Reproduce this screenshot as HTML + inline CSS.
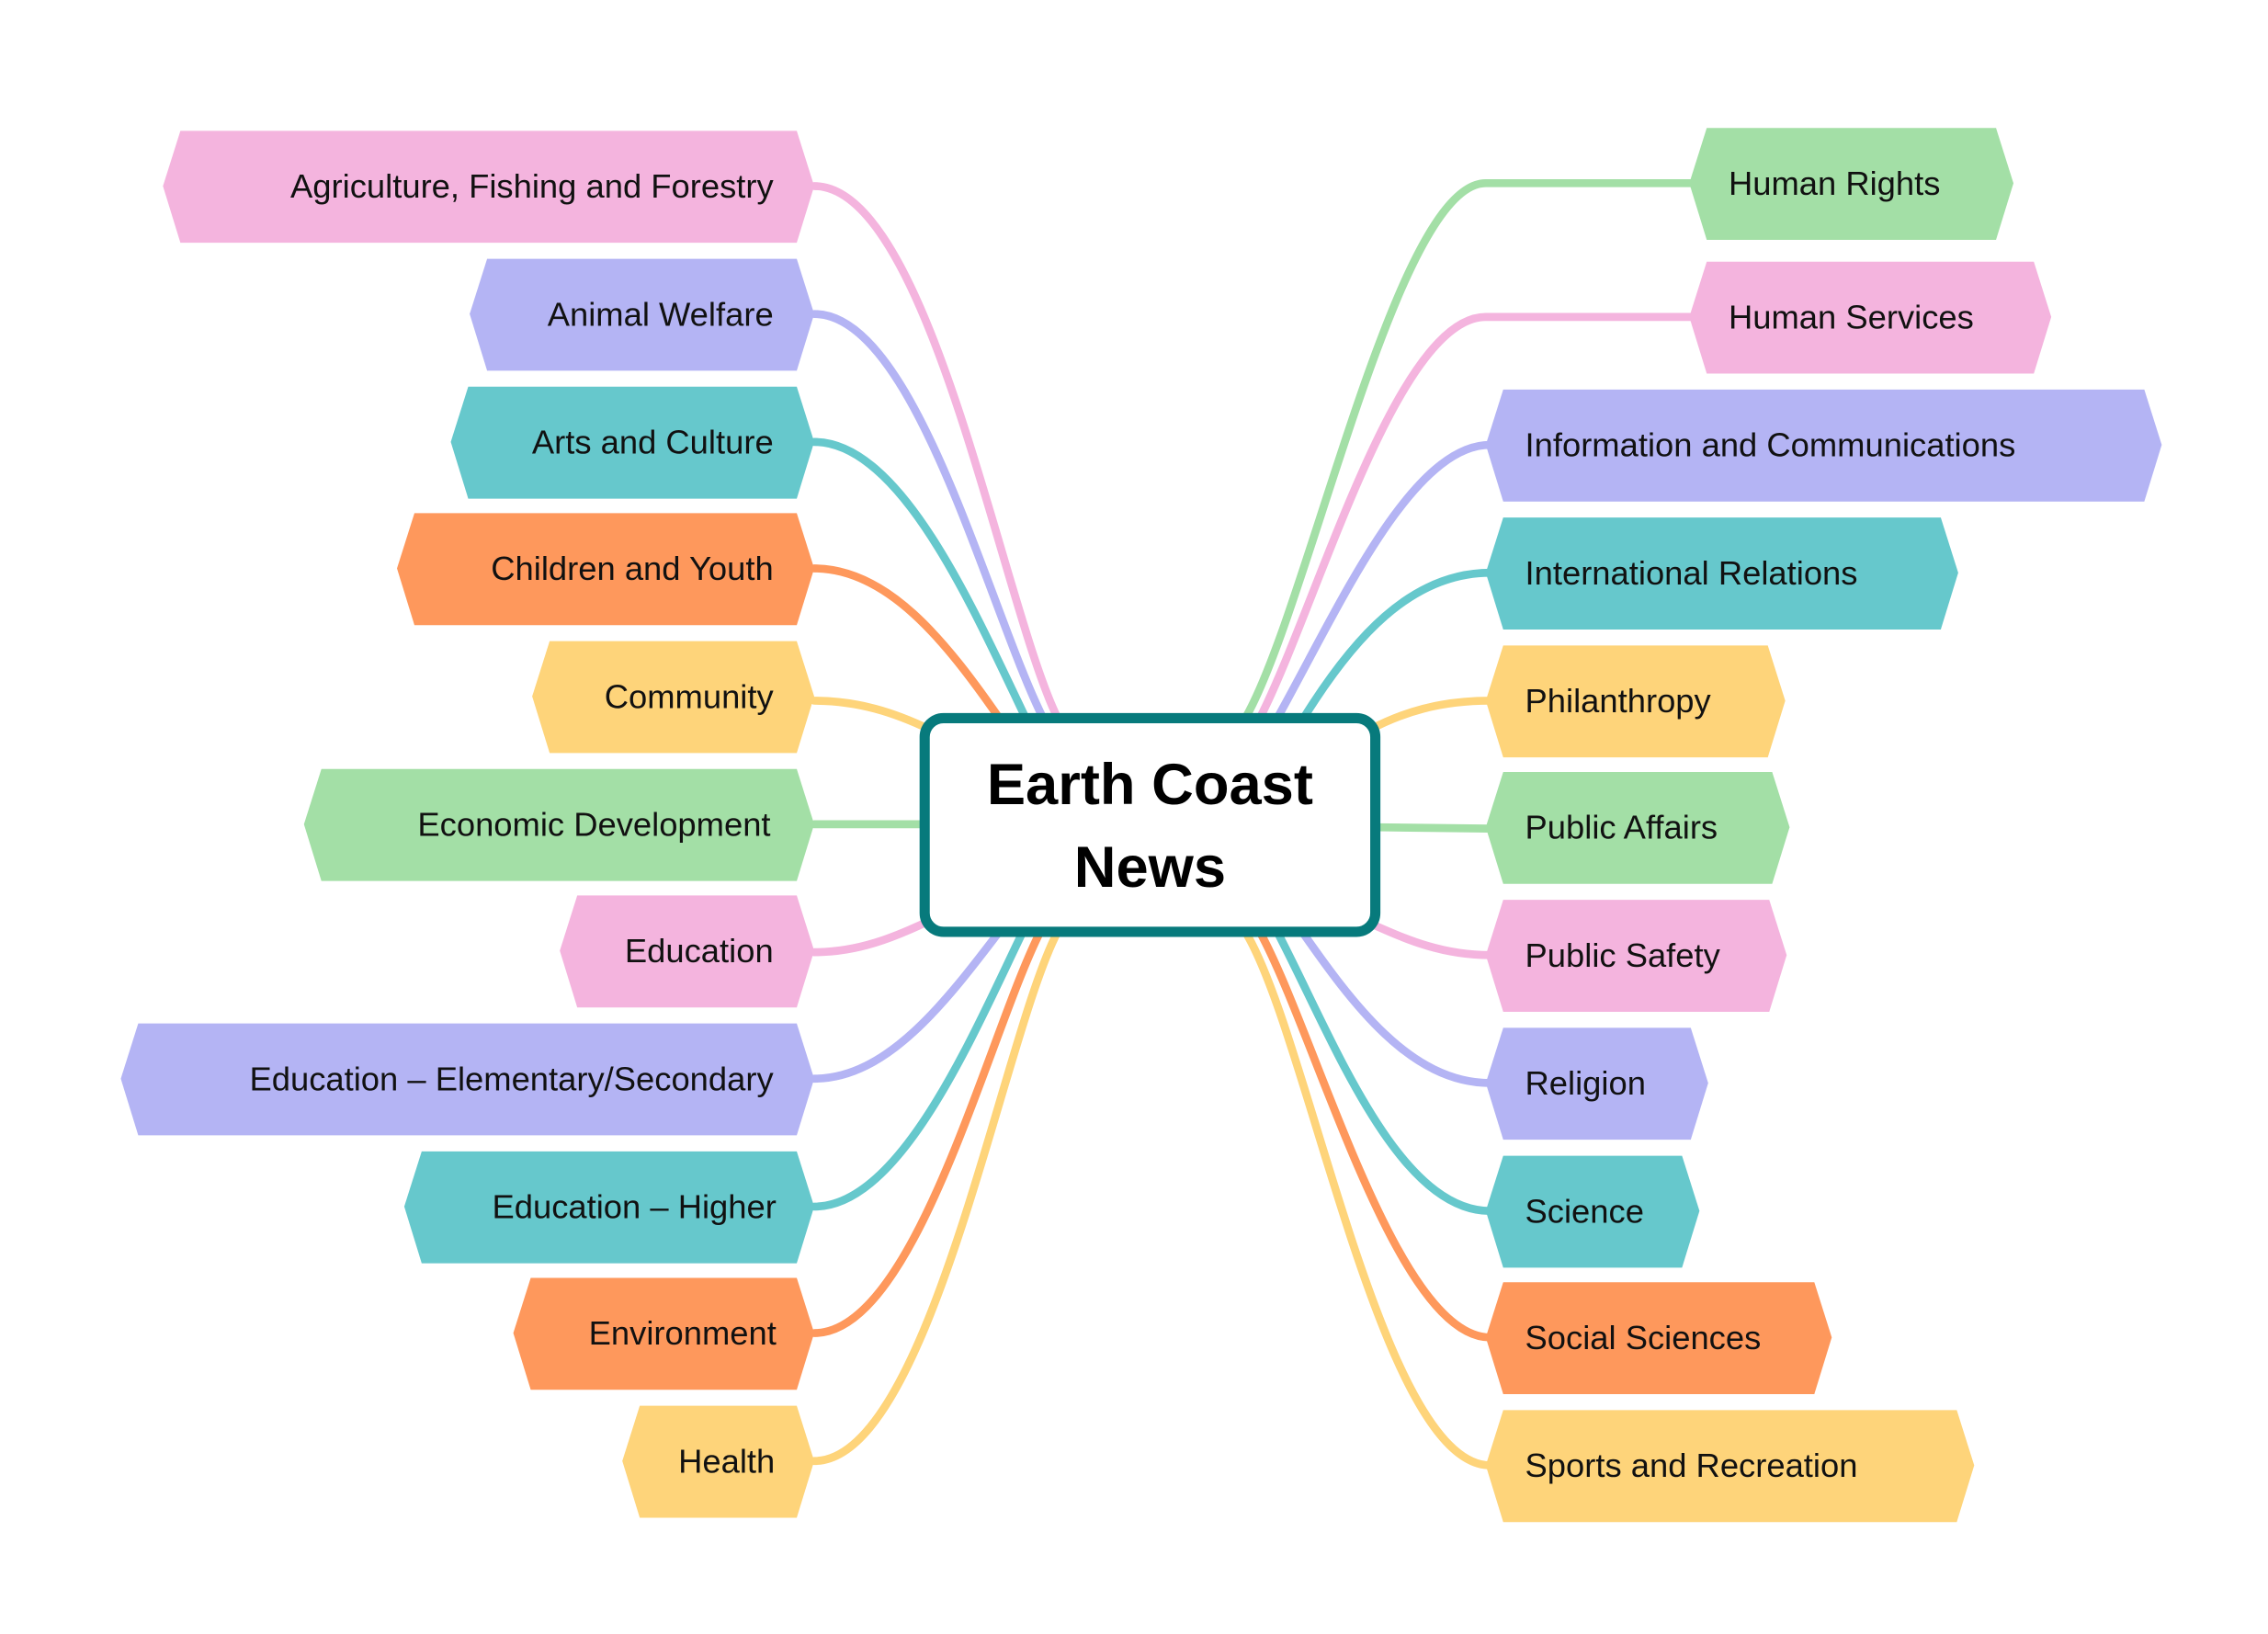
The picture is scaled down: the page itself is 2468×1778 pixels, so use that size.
<!DOCTYPE html>
<html><head><meta charset="utf-8"><style>
html,body{margin:0;padding:0;background:#fff;}
svg{display:block;}
text{font-family:"Liberation Sans",sans-serif;}
</style></head><body>
<svg width="2468" height="1778" viewBox="0 0 1560 1124" xmlns="http://www.w3.org/2000/svg">
<rect width="1560" height="1124" fill="#fff"/>
<g fill="none" stroke-width="5.5" stroke-linecap="round">
<path d="M560,128 C640,128 690,420 728,495" stroke="#f4b4de"/>
<path d="M560,216 C630,216 680,420 718,495" stroke="#b4b4f4"/>
<path d="M560,304 C620,304 670,420 706,495" stroke="#66c8cc"/>
<path d="M560,391 C610,391 650,440 688,495" stroke="#fe985c"/>
<path d="M560,482 C590,482 615,490 640,502" stroke="#fed47a"/>
<path d="M560,567 L640,567" stroke="#a3dfa6"/>
<path d="M560,655 C590,655 615,645 640,633" stroke="#f4b4de"/>
<path d="M560,742 C610,742 650,690 688,640" stroke="#b4b4f4"/>
<path d="M560,830 C620,830 670,710 704,640" stroke="#66c8cc"/>
<path d="M560,917 C630,917 680,710 716,640" stroke="#fe985c"/>
<path d="M560,1005 C640,1005 690,710 728,640" stroke="#fed47a"/>
<path d="M1165,126 L1022,126 C960,126 900,420 856,495" stroke="#a3dfa6"/>
<path d="M1165,218 L1022,218 C960,218 905,420 866,495" stroke="#f4b4de"/>
<path d="M1025,306 C970,306 920,420 878,495" stroke="#b4b4f4"/>
<path d="M1025,394 C970,394 930,440 896,495" stroke="#66c8cc"/>
<path d="M1025,482 C990,482 965,490 942,502" stroke="#fed47a"/>
<path d="M942,569 L1025,570" stroke="#a3dfa6"/>
<path d="M942,635 C965,645 990,657 1025,657" stroke="#f4b4de"/>
<path d="M1025,745 C970,745 930,690 895,640" stroke="#b4b4f4"/>
<path d="M1025,833 C960,833 915,710 878,640" stroke="#66c8cc"/>
<path d="M1025,920 C960,920 905,710 866,640" stroke="#fe985c"/>
<path d="M1025,1008 C950,1008 900,710 856,640" stroke="#fed47a"/>
</g>
<g font-size="23" fill="#111" text-anchor="end">
<polygon points="124,90 548,90 560,128 548,167 124,167 112,128" fill="#f4b4de"/>
<text x="532" y="136">Agriculture, Fishing and Forestry</text>
<polygon points="335,178 548,178 560,216 548,255 335,255 323,216" fill="#b4b4f4"/>
<text x="532" y="224">Animal Welfare</text>
<polygon points="322,266 548,266 560,304 548,343 322,343 310,304" fill="#66c8cc"/>
<text x="532" y="312">Arts and Culture</text>
<polygon points="285,353 548,353 560,391 548,430 285,430 273,391" fill="#fe985c"/>
<text x="532" y="399">Children and Youth</text>
<polygon points="378,441 548,441 560,479 548,518 378,518 366,479" fill="#fed47a"/>
<text x="532" y="487">Community</text>
<polygon points="221,529 548,529 560,567 548,606 221,606 209,567" fill="#a3dfa6"/>
<text x="530" y="575">Economic Development</text>
<polygon points="397,616 548,616 560,654 548,693 397,693 385,654" fill="#f4b4de"/>
<text x="532" y="662">Education</text>
<polygon points="95,704 548,704 560,742 548,781 95,781 83,742" fill="#b4b4f4"/>
<text x="532" y="750">Education – Elementary/Secondary</text>
<polygon points="290,792 548,792 560,830 548,869 290,869 278,830" fill="#66c8cc"/>
<text x="534" y="838">Education – Higher</text>
<polygon points="365,879 548,879 560,917 548,956 365,956 353,917" fill="#fe985c"/>
<text x="534" y="925">Environment</text>
<polygon points="440,967 548,967 560,1005 548,1044 440,1044 428,1005" fill="#fed47a"/>
<text x="533" y="1013">Health</text>
</g>
<g font-size="23" fill="#111">
<polygon points="1174,88 1373,88 1385,126 1373,165 1174,165 1162,126" fill="#a3dfa6"/>
<text x="1189" y="134">Human Rights</text>
<polygon points="1174,180 1399,180 1411,218 1399,257 1174,257 1162,218" fill="#f4b4de"/>
<text x="1189" y="226">Human Services</text>
<polygon points="1034,268 1475,268 1487,306 1475,345 1034,345 1022,306" fill="#b4b4f4"/>
<text x="1049" y="314">Information and Communications</text>
<polygon points="1034,356 1335,356 1347,394 1335,433 1034,433 1022,394" fill="#66c8cc"/>
<text x="1049" y="402">International Relations</text>
<polygon points="1034,444 1216,444 1228,482 1216,521 1034,521 1022,482" fill="#fed47a"/>
<text x="1049" y="490">Philanthropy</text>
<polygon points="1034,531 1219,531 1231,569 1219,608 1034,608 1022,569" fill="#a3dfa6"/>
<text x="1049" y="577">Public Affairs</text>
<polygon points="1034,619 1217,619 1229,657 1217,696 1034,696 1022,657" fill="#f4b4de"/>
<text x="1049" y="665">Public Safety</text>
<polygon points="1034,707 1163,707 1175,745 1163,784 1034,784 1022,745" fill="#b4b4f4"/>
<text x="1049" y="753">Religion</text>
<polygon points="1034,795 1157,795 1169,833 1157,872 1034,872 1022,833" fill="#66c8cc"/>
<text x="1049" y="841">Science</text>
<polygon points="1034,882 1248,882 1260,920 1248,959 1034,959 1022,920" fill="#fe985c"/>
<text x="1049" y="928">Social Sciences</text>
<polygon points="1034,970 1346,970 1358,1008 1346,1047 1034,1047 1022,1008" fill="#fed47a"/>
<text x="1049" y="1016">Sports and Recreation</text>
</g>
<rect x="636" y="494" width="310" height="147" rx="13" fill="#fff" stroke="#077a7c" stroke-width="7"/>
<g font-size="40" font-weight="bold" fill="#000" text-anchor="middle">
<text x="791" y="553">Earth Coast</text>
<text x="791" y="610">News</text>
</g>
</svg>
</body></html>
